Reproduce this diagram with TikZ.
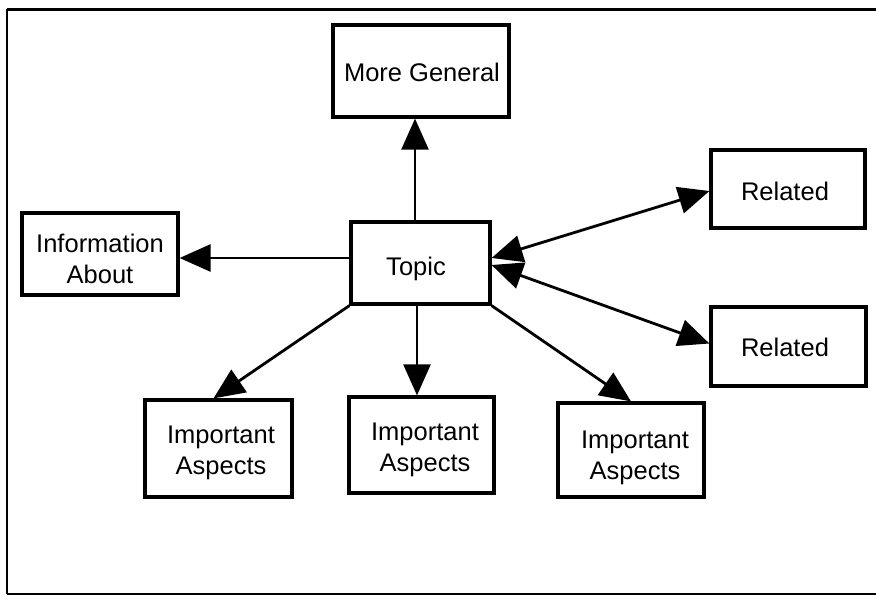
\documentclass[tikz,border=0pt]{standalone}
\usepackage{fontspec}
\setmainfont{Liberation Sans}
\usetikzlibrary{arrows.meta}
\tikzset{
  box/.style={draw=black, line width=3.2pt, fill=white, inner sep=0pt},
  txt/.style={align=center, inner sep=0pt, font=\fontsize{25.5}{31}\selectfont},
  arr/.style={line width=2.8pt, -{Triangle[length=31pt,width=27pt]}},
  darr/.style={line width=2.8pt, {Triangle[length=31pt,width=27pt]}-{Triangle[length=31pt,width=27pt]}},
  frame/.style={line width=2.5pt}
}
\begin{document}
\begin{tikzpicture}[x=1pt,y=-1pt]
\useasboundingbox (0,0) rectangle (876,595);
% outer frame
\coordinate (f1) at (876,9);
\coordinate (f2) at (7,9);
\coordinate (f3) at (7,594);
\coordinate (f4) at (876,594);
\draw[frame, line width=3pt] (f1) -- (f2);
\draw[frame] (f2) -- (f3);
\draw[frame] (f3) -- (f4);

% boxes
\node[box, minimum width=176pt, minimum height=92pt] (gen) at (421,71) {};
\node[box, minimum width=139pt, minimum height=82pt] (topic) at (420.5,263) {};
\node[box, minimum width=156pt, minimum height=82pt] (info) at (100,254) {};
\node[box, minimum width=154pt, minimum height=78pt] (rel1) at (788,189) {};
\node[box, minimum width=155pt, minimum height=79pt] (rel2) at (788.5,346.5) {};
\node[box, minimum width=147pt, minimum height=97pt] (ia1) at (218.5,448.5) {};
\node[box, minimum width=145pt, minimum height=96pt] (ia2) at (421.5,445) {};
\node[box, minimum width=146pt, minimum height=94pt] (ia3) at (631,450) {};

% texts
\node[txt] (gent) at (422,72) {More General};
\node[txt] (topict) at (416,269) {Topic};
\node[txt] (infot) at (100,259) {Information\\About};
\node[txt] (rel1t) at (785,191) {Related};
\node[txt] (rel2t) at (785,347) {Related};
\node[txt] (ia1t) at (221,453) {Important\\Aspects};
\node[txt] (ia2t) at (425,450) {Important\\Aspects};
\node[txt] (ia3t) at (635,458) {Important\\Aspects};

% connectors
\coordinate (tn) at ([xshift=-5.5pt]topic.north);
\draw[arr, line width=2.3pt] (tn) -- (gen.south -| tn);

\coordinate (tw) at ([yshift=5pt]topic.west);
\draw[arr] (tw) -- (info.east |- tw);

\coordinate (te1) at ([yshift=5pt]topic.east);
\coordinate (te2) at ([yshift=-2pt]topic.east);
\coordinate (r1w) at ([yshift=-2pt]rel1.west);
\coordinate (r2w) at ([yshift=3pt]rel2.west);
\draw[darr] (te1) -- (r1w);
\draw[darr] (te2) -- (r2w);

\coordinate (ts) at ([xshift=-3.5pt]topic.south);
\draw[arr, line width=2.3pt] (ts) -- (ia2.north -| ts);
\draw[arr] (topic.south west) -- ([xshift=-5pt]ia1.north);
\draw[arr] (topic.south east) -- (ia3.north);
\end{tikzpicture}
\end{document}
